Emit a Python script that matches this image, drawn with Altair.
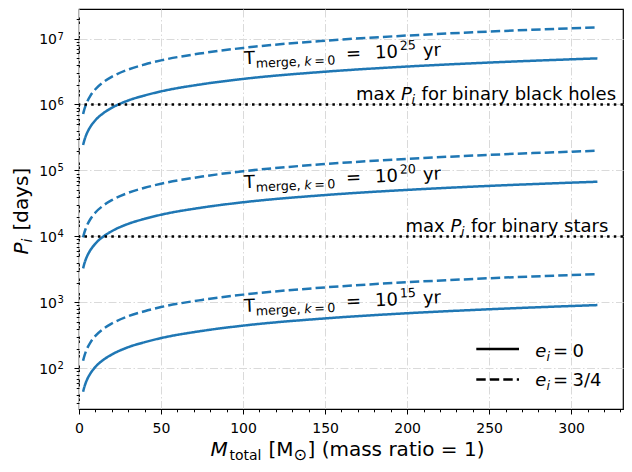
import altair as alt
import pandas as pd

FONT = "DejaVu Sans"
BLUE = "#1f77b4"

# ---- data ----
masses = [2.5, 3, 4, 5, 7, 10, 15, 20, 30, 40, 50, 75, 100, 150, 200, 250, 316]
p25_e0 = [2.43e5, 2.72e5, 3.26e5, 3.75e5, 4.62e5, 5.78e5, 7.44e5, 8.91e5, 1.15e6, 1.37e6,
          1.58e6, 2.03e6, 2.44e6, 3.14e6, 3.76e6, 4.32e6, 5.0e6]
p25_e34 = [7.17e5, 8.02e5, 9.62e5, 1.106e6, 1.363e6, 1.705e6, 2.195e6, 2.628e6, 3.39e6, 4.04e6,
           4.66e6, 5.99e6, 7.20e6, 9.26e6, 1.109e7, 1.274e7, 1.475e7]
p20_e0 = [3284, 3676, 4405, 5068, 6243, 7811, 10054, 12041, 15541, 18514,
          21351, 27432, 32973, 42432, 50811, 58378, 67568]
p20_e34 = [9688, 10844, 12995, 14951, 18417, 23042, 29659, 35521, 45846, 54616,
           62985, 80924, 97270, 125174, 149892, 172215, 199324]
p15_e0 = [44.4, 49.7, 59.5, 68.5, 84.4, 105.6, 135.9, 162.7, 210, 250,
          288.5, 370.7, 445.6, 573.4, 686.6, 788.9, 913.1]
p15_e34 = [131, 146.6, 175.5, 202, 249, 311.5, 401, 480, 619.5, 737.5,
           851, 1093.6, 1314.5, 1691.5, 2025.5, 2327.3, 2693.6]

label_M = [100.8, 100.8, 100.8]
label_P = [4.07e6, 5.4e4, 7.2e2]
label_exp = ["25", "20", "15"]

limit_P = [1e6, 1e4]
limit_M = [168.9, 199.0]
limit_what = ["for binary black holes", "for binary stars"]

y_label_vals = [1e2, 1e3, 1e4, 1e5, 1e6, 1e7]
y_label_exp = ["2", "3", "4", "5", "6", "7"]

x_ticks = list(range(0, 331, 10))
y_ticks = [m * 10 ** k for k in range(1, 8) for m in range(1, 10) if 24.3 <= m * 10 ** k <= 2.8e7]

# ---- tables ----
rows = []
for level, e0, e34 in [("25", p25_e0, p25_e34), ("20", p20_e0, p20_e34), ("15", p15_e0, p15_e34)]:
    for m, a, b in zip(masses, e0, e34):
        rows.append({"M": m, "P": a, "ecc": "0", "level": level})
        rows.append({"M": m, "P": b, "ecc": "3/4", "level": level})
df = pd.DataFrame(rows)

W, H = 544, 400
xs = alt.Scale(domain=[0, 331.6], nice=False, zero=False)
ys = alt.Scale(type="log", domain=[24.3, 2.8e7], nice=False)

GRID = dict(grid=True, gridColor="#dadada", gridWidth=1, gridDash=[8, 2.5, 1.5, 2.5])
major_x = "datum.value % 50 == 0"
major_y = "abs(log(datum.value)/LN10 - round(log(datum.value)/LN10)) < 0.001"

xaxis = alt.Axis(values=x_ticks, title=None, domain=False, tickColor="black", tickWidth=1,
                 tickSize={"condition": {"test": major_x, "value": 5}, "value": 2.8},
                 gridOpacity={"condition": {"test": major_x, "value": 1}, "value": 0},
                 labelExpr=f"{major_x} ? format(datum.value, 'd') : ''",
                 labelFont=FONT, labelFontSize=14, labelColor="black", labelPadding=7,
                 labelFlush=False, labelOverlap=False, **GRID)
yaxis = alt.Axis(values=y_ticks, title=None, domain=False, tickColor="black", tickWidth=1,
                 tickSize={"condition": {"test": major_y, "value": 5}, "value": 2.8},
                 gridOpacity={"condition": {"test": major_y, "value": 1}, "value": 0},
                 labels=False, **GRID)

lines = alt.Chart(df).mark_line(strokeWidth=2.5, color=BLUE, interpolate="monotone").encode(
    x=alt.X("M:Q", scale=xs, axis=xaxis),
    y=alt.Y("P:Q", scale=ys, axis=yaxis),
    strokeDash=alt.StrokeDash("ecc:N", scale=alt.Scale(domain=["0", "3/4"], range=[[1, 0], [9.4, 4.1]]), legend=None),
    detail="level:N",
)

lim_df = pd.DataFrame({"M": limit_M, "P": limit_P, "what": limit_what})
hl = alt.Chart(lim_df).mark_rule(color="black", strokeWidth=2.5, strokeDash=[2.5, 4.2]).encode(
    y=alt.Y("P:Q", scale=ys, axis=yaxis))

# y tick labels 10^k, composed of base and raised exponent
ylab_df = pd.DataFrame({"P": y_label_vals, "exp": y_label_exp})
ylab_base = alt.Chart(ylab_df).mark_text(text="10", align="right", baseline="alphabetic", dy=5.1,
                                         fontSize=14, font=FONT, color="black").encode(
    x=alt.value(-22), y=alt.Y("P:Q", scale=ys, axis=yaxis))
ylab_exp = alt.Chart(ylab_df).mark_text(align="left", baseline="alphabetic", dy=1.0,
                                        fontSize=10, font=FONT, color="black").encode(
    x=alt.value(-21.5), y=alt.Y("P:Q", scale=ys, axis=yaxis), text="exp:N")

ANG = 357.5
lab_df = pd.DataFrame({"M": label_M, "P": label_P, "exp": label_exp})


def data_piece(data, dx, dy, size, text=None, field=None, style="normal", angle=0):
    kw = dict(align="left", baseline="alphabetic", dx=dx, dy=dy, fontSize=size, font=FONT,
              fontStyle=style, angle=angle, color="black")
    if text is not None:
        kw["text"] = text
    enc = dict(x=alt.X("M:Q", scale=xs, axis=xaxis), y=alt.Y("P:Q", scale=ys, axis=yaxis))
    if field is not None:
        enc["text"] = alt.Text(field + ":N")
    return alt.Chart(data).mark_text(**kw).encode(**enc)


dummy = pd.DataFrame({"a": [0]})


def px_piece(text, x, y, size, style="normal", angle=0, dx=0, dy=0):
    return alt.Chart(dummy).mark_text(text=text, align="left", baseline="alphabetic", fontSize=size,
                                      font=FONT, fontStyle=style, angle=angle, dx=dx, dy=dy,
                                      color="black").encode(x=alt.value(x), y=alt.value(y))


S = 12.6
pieces = [
    data_piece(lab_df, 0, 0, 18, text="T", angle=ANG),
    data_piece(lab_df, 11.5, 4, S, text="merge,", angle=ANG),
    data_piece(lab_df, 60, 4, S, text="k", style="italic", angle=ANG),
    data_piece(lab_df, 70, 4, S, text="=", angle=ANG),
    data_piece(lab_df, 83, 4, S, text="0", angle=ANG),
    data_piece(lab_df, 102, 0, 18, text="=", angle=ANG),
    data_piece(lab_df, 131, 0, 18, text="10", angle=ANG),
    data_piece(lab_df, 156, -7.5, S, field="exp", angle=ANG),
    data_piece(lab_df, 179, 0, 18, text="yr", angle=ANG),
    # limit annotations
    data_piece(lim_df, 0, -4.5, 18, text="max"),
    data_piece(lim_df, 45, -4.5, 18, text="P", style="italic"),
    data_piece(lim_df, 55.5, -0.5, S, text="i", style="italic"),
    data_piece(lim_df, 65.5, -4.5, 18, field="what"),
]

# legend (pixel positions relative to plot area)
leg = [
    alt.Chart(dummy).mark_rule(color="black", strokeWidth=2.5).encode(
        x=alt.value(397.3), x2=alt.value(440), y=alt.value(340)),
    alt.Chart(dummy).mark_rule(color="black", strokeWidth=2.5, strokeDash=[9.4, 4.1]).encode(
        x=alt.value(397.3), x2=alt.value(440), y=alt.value(370.6)),
    px_piece("e", 456.3, 348, 18, style="italic"),
    px_piece("i", 467.5, 352, S, style="italic"),
    px_piece("=", 474, 348, 18),
    px_piece("0", 493.5, 348, 18),
    px_piece("e", 456.3, 376.6, 18, style="italic"),
    px_piece("i", 467.5, 380.6, S, style="italic"),
    px_piece("=", 474, 376.6, 18),
    px_piece("3/4", 493.5, 376.6, 18),
]

# axis titles
titles = [
    px_piece("M", 131.5, 447, 20, style="italic"),
    px_piece("total", 150.5, 451, 14),
    px_piece("[M", 189.5, 447, 20),
    px_piece("⊙", 214.5, 450.5, 16),
    px_piece("] (mass ratio = 1)", 228.5, 447, 20),
    px_piece("P", -51, 245.5, 20, style="italic", angle=270),
    px_piece("i", -51, 245.5, 14, style="italic", angle=270, dx=12, dy=4),
    px_piece("[days]", -51, 245.5, 20, angle=270, dx=24),
]

chart = alt.layer(lines, hl, ylab_base, ylab_exp, *pieces, *leg, *titles).properties(
    width=W, height=H,
    autosize=alt.AutoSizeParams(type="none"),
    padding={"left": 71, "top": 1, "right": 1, "bottom": 55},
).configure_view(stroke="black", strokeWidth=1.2)

chart.save("out.html", embed_options={"renderer": "svg", "actions": False})
